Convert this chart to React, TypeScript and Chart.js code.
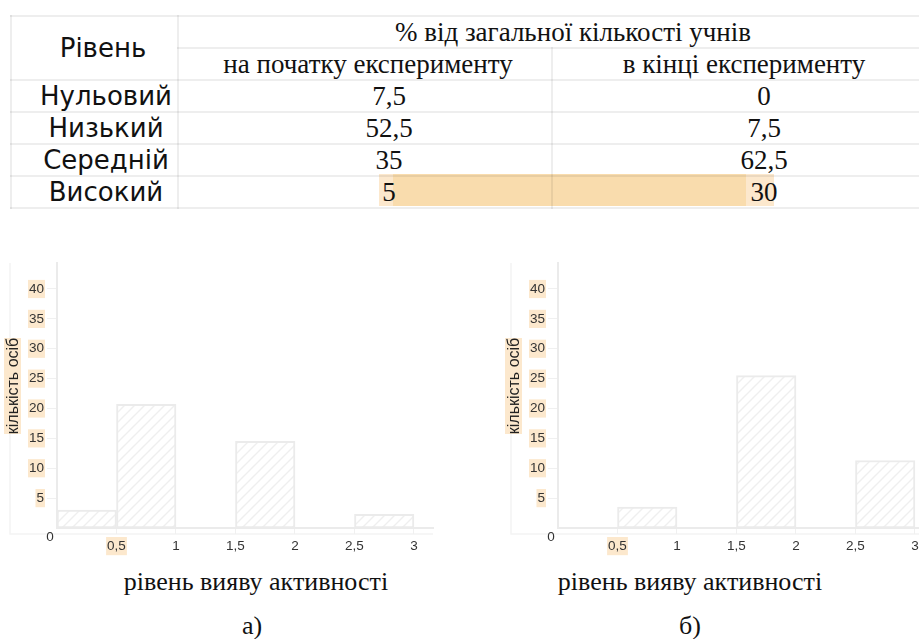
import React, { useEffect, useRef } from 'react';
import { Chart, registerables } from 'chart.js';
Chart.register(...registerables);

// ---- table data ----
const levelHeader = 'Рівень';
const groupHeader = '% від загальної кількості учнів';
const colHeaders = ['на початку експерименту', 'в кінці експерименту'];
const levels = ['Нульовий', 'Низький', 'Середній', 'Високий'];
const pctStart = ['7,5', '52,5', '35', '5'];
const pctEnd = ['0', '7,5', '62,5', '30'];

// ---- histogram data ----
const binCenters = [0.25, 0.75, 1.25, 1.75, 2.25, 2.75];
const countsBefore = [3, 20.7, 0, 14.5, 0, 2.3];
const countsAfter = [0, 3.5, 0, 25.5, 0, 11.3];
const xTickValues = [0.5, 1, 1.5, 2, 2.5, 3];
const yTickValues = [5, 10, 15, 20, 25, 30, 35, 40];
const yTitle = 'кількість осіб';
const xTitle = 'рівень вияву активності';
const captions = ['а)', 'б)'];

const HL = '#fce8cd';
const HL_DARK = '#f9dcad';

function makePattern(): CanvasPattern | string {
  const pc = document.createElement('canvas');
  pc.width = 10;
  pc.height = 10;
  const g = pc.getContext('2d');
  if (!g) return '#fff';
  g.fillStyle = '#ffffff';
  g.fillRect(0, 0, 10, 10);
  g.strokeStyle = '#efefef';
  g.lineWidth = 1.4;
  g.beginPath();
  g.moveTo(-1, 11);
  g.lineTo(11, -1);
  g.moveTo(-1, 1);
  g.lineTo(1, -1);
  g.moveTo(9, 11);
  g.lineTo(11, 9);
  g.stroke();
  return g.createPattern(pc, 'repeat') || '#fff';
}

const TICK_FONT = '13.5px "Liberation Sans", Arial, sans-serif';

const extras = {
  id: 'extras',
  beforeDraw(chart: any) {
    const { ctx, chartArea } = chart;
    ctx.save();
    ctx.strokeStyle = '#f4f4f4';
    ctx.lineWidth = 1.5;
    ctx.beginPath();
    ctx.moveTo(chartArea.left - 47, chartArea.top);
    ctx.lineTo(chartArea.left - 47, chartArea.bottom + 6);
    ctx.lineTo(chartArea.right, chartArea.bottom + 6);
    ctx.stroke();
    ctx.restore();
  },
  afterDraw(chart: any) {
    const { ctx, scales } = chart;
    const x = scales.x.getPixelForValue(0);
    const y = scales.y.getPixelForValue(0);
    ctx.save();
    ctx.font = TICK_FONT;
    ctx.fillStyle = '#333';
    ctx.textAlign = 'center';
    ctx.textBaseline = 'middle';
    ctx.fillText('0', x - 7, y + 9);
    ctx.restore();
  },
};

function Histogram({ counts, left }: { counts: number[]; left: number }) {
  const ref = useRef<HTMLCanvasElement>(null);
  useEffect(() => {
    const canvas = ref.current;
    if (!canvas) return;
    const pattern = makePattern();
    const tickFont = { family: '"Liberation Sans", Arial, sans-serif', size: 13.5 };
    const chart = new Chart(canvas, {
      type: 'bar',
      data: {
        datasets: [
          {
            data: binCenters.map((x, i) => ({ x, y: counts[i] })),
            backgroundColor: pattern as any,
            borderColor: '#ebebeb',
            borderWidth: 2,
            borderSkipped: false,
            barPercentage: 1,
            categoryPercentage: 1,
          },
        ],
      },
      options: {
        animation: false,
        responsive: false,
        maintainAspectRatio: false,
        layout: { padding: { top: 13, right: 26, bottom: 2, left: 0 } },
        plugins: { legend: { display: false }, tooltip: { enabled: false } },
        scales: {
          x: {
            type: 'linear',
            offset: false,
            min: 0,
            max: 3.16,
            afterBuildTicks: (s: any) => {
              s.ticks = xTickValues.map((v) => ({ value: v }));
            },
            afterFit: (s: any) => {
              s.height = 30;
            },
            grid: { drawOnChartArea: false, offset: false, color: '#f0f0f0', tickLength: 6 },
            border: { color: '#ebebeb', width: 2 },
            ticks: {
              font: tickFont,
              color: '#333',
              padding: 4,
              autoSkip: false,
              maxRotation: 0,
              callback: (v: any) => String(v).replace('.', ','),
              showLabelBackdrop: (c: any) => c.tick && c.tick.value === 0.5,
              backdropColor: HL,
              backdropPadding: 1,
            } as any,
          },
          y: {
            type: 'linear',
            min: 0,
            max: 44.35,
            afterBuildTicks: (s: any) => {
              s.ticks = yTickValues.map((v) => ({ value: v }));
            },
            afterFit: (s: any) => {
              s.width = 57;
            },
            grid: { drawOnChartArea: false, color: '#f0f0f0', tickLength: 10 },
            border: { color: '#ebebeb', width: 2 },
            ticks: {
              font: tickFont,
              color: '#333',
              padding: 3,
              showLabelBackdrop: true,
              backdropColor: HL,
              backdropPadding: 1,
            } as any,
          },
        },
      },
      plugins: [extras],
    });
    return () => chart.destroy();
  }, [counts]);
  return (
    <canvas
      ref={ref}
      width={459}
      height={310}
      style={{ position: 'absolute', left, top: 250, width: 459, height: 310 }}
    />
  );
}

const serif = '"Liberation Serif", "Times New Roman", serif';
const sans = '"DejaVu Sans", sans-serif';
const border = '2px solid rgba(0,0,0,0.065)';

export default function App() {
  useEffect(() => {
    document.body.style.margin = '0';
  }, []);
  const cell: React.CSSProperties = {
    border,
    padding: 0,
    height: 30,
    lineHeight: '30px',
    textAlign: 'center',
    verticalAlign: 'middle',
    whiteSpace: 'nowrap',
    color: '#111',
  };
  const labelCell: React.CSSProperties = { ...cell, fontFamily: sans, fontSize: 26, paddingLeft: 23 };
  const numCell: React.CSSProperties = { ...cell, fontFamily: serif, fontSize: 27, paddingLeft: 48 };
  return (
    <div
      style={{
        position: 'absolute',
        left: 0,
        top: 0,
        width: 919,
        height: 639,
        overflow: 'hidden',
        background: '#fff',
      }}
    >
      {/* text highlight in the last row */}
      <div style={{ position: 'absolute', left: 379, top: 174, width: 14, height: 32, background: HL }} />
      <div style={{ position: 'absolute', left: 393, top: 174, width: 353, height: 32, background: HL_DARK }} />
      <div style={{ position: 'absolute', left: 746, top: 174, width: 28, height: 32, background: HL }} />
      <table
        style={{
          position: 'absolute',
          left: 10,
          top: 15,
          width: 915,
          borderCollapse: 'collapse',
          tableLayout: 'fixed',
        }}
      >
        <colgroup>
          <col style={{ width: 167 }} />
          <col style={{ width: 374 }} />
          <col style={{ width: 374 }} />
        </colgroup>
        <tbody>
          <tr>
            <td rowSpan={2} style={{ ...labelCell, paddingLeft: 17 }}>
              {levelHeader}
            </td>
            <td colSpan={2} style={{ ...cell, fontFamily: serif, fontSize: 27, paddingLeft: 42 }}>
              {groupHeader}
            </td>
          </tr>
          <tr>
            <td style={{ ...cell, fontFamily: serif, fontSize: 27, paddingLeft: 6 }}>{colHeaders[0]}</td>
            <td style={{ ...cell, fontFamily: serif, fontSize: 27, paddingLeft: 10 }}>{colHeaders[1]}</td>
          </tr>
          {levels.map((lv, i) => (
            <tr key={lv}>
              <td style={labelCell}>{lv}</td>
              <td style={numCell}>{pctStart[i]}</td>
              <td style={{ ...numCell, paddingLeft: 50 }}>{pctEnd[i]}</td>
            </tr>
          ))}
        </tbody>
      </table>

      <Histogram counts={countsBefore} left={0} />
      <Histogram counts={countsAfter} left={501} />

      {[13, 514].map((cx, i) => (
        <div
          key={'yt' + i}
          style={{
            position: 'absolute',
            left: cx - 70,
            top: 386 - 10,
            width: 140,
            height: 20,
            lineHeight: '20px',
            textAlign: 'center',
            transform: 'rotate(-90deg)',
            fontFamily: '"Liberation Sans", Arial, sans-serif',
            fontSize: 16,
            color: '#222',
          }}
        >
          <span style={{ background: HL }}>{yTitle}</span>
        </div>
      ))}

      {[256, 690].map((cx, i) => (
        <div
          key={'xt' + i}
          style={{
            position: 'absolute',
            left: cx - 200,
            top: 566,
            width: 400,
            textAlign: 'center',
            fontFamily: serif,
            fontSize: 26,
            lineHeight: '32px',
            color: '#111',
          }}
        >
          {xTitle}
        </div>
      ))}
      {[252, 690].map((cx, i) => (
        <div
          key={'cap' + i}
          style={{
            position: 'absolute',
            left: cx - 40,
            top: 610,
            width: 80,
            textAlign: 'center',
            fontFamily: serif,
            fontSize: 26,
            lineHeight: '32px',
            color: '#111',
          }}
        >
          {captions[i]}
        </div>
      ))}
    </div>
  );
}
